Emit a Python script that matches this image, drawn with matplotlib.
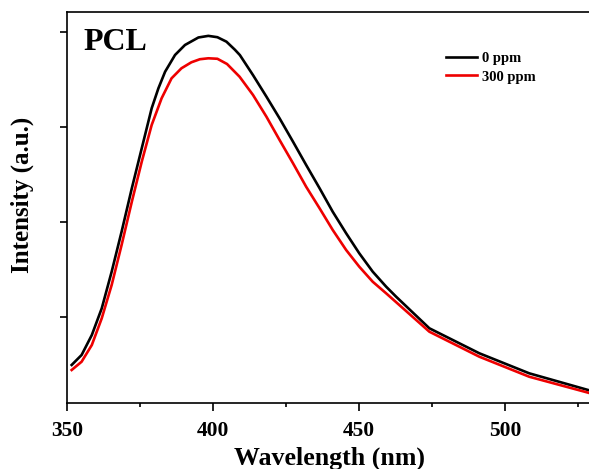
import matplotlib
matplotlib.use("Agg")
import matplotlib.pyplot as plt
from matplotlib.ticker import MultipleLocator

# Data (wavelength in nm, intensity in a.u.)
wl_0ppm = [351.6, 355.0, 358.5, 361.9, 365.3, 368.7, 372.2, 375.6, 379.0, 381.3,
           383.6, 387.0, 390.4, 395.0, 398.4, 401.5, 404.6, 407.5, 409.2, 413.7,
           418.3, 422.8, 427.4, 431.9, 436.5, 441.0, 445.6, 450.1, 454.7, 459.3,
           462.7, 474.1, 491.2, 508.3, 528.5]
int_0ppm = [49200, 59700, 80700, 108800, 147400, 189500, 235200, 277300, 319400, 340400,
            357900, 375500, 386000, 393900, 395600, 394200, 389500, 381000, 375400, 354300,
            331600, 308800, 284200, 259700, 235200, 210500, 187800, 166700, 147400, 131600,
            121100, 87800, 61500, 40400, 22800]

wl_300ppm = [351.6, 355.0, 358.5, 361.9, 365.3, 368.7, 372.2, 375.6, 379.0, 382.4,
             385.8, 389.2, 392.6, 395.5, 398.4, 401.5, 404.8, 409.1, 413.7, 418.3,
             422.8, 427.4, 431.9, 436.5, 441.0, 445.6, 450.1, 454.7, 459.3, 474.1,
             491.2, 508.3, 528.5]
int_300ppm = [43900, 52600, 70200, 98300, 133400, 175500, 221000, 263200, 301800, 329900,
              350900, 361500, 367800, 371000, 372000, 371500, 366000, 352600, 333400, 310500,
              286000, 261500, 236800, 214100, 191300, 170200, 152600, 136800, 124600, 84200,
              57900, 36800, 20000]

labels = ["0 ppm", "300 ppm"]
x_ticks = [350, 400, 450, 500]
y_ticks = [100000, 200000, 300000, 400000]

plt.rcParams['font.family'] = ['Liberation Serif', 'DejaVu Serif']
plt.rcParams['font.weight'] = 'bold'

W, H = 589, 469
fig = plt.figure(figsize=(W / 100, H / 100), dpi=100)
ax_w = 592.6 - 67
ax = fig.add_axes([67 / W, (H - 403) / H, ax_w / W, (403 - 12) / H])

ax.plot(wl_0ppm, int_0ppm, color='black', lw=1.9, label=labels[0])
ax.plot(wl_300ppm, int_300ppm, color='#ee0000', lw=1.9, label=labels[1])

ax.set_xlim(350, 530)
ax.set_ylim(9158, 420725)
ax.set_xticks(x_ticks)
ax.xaxis.set_minor_locator(MultipleLocator(25))
ax.set_yticks(y_ticks)
ax.set_yticklabels([])

for s in ['left', 'bottom', 'top']:
    ax.spines[s].set_linewidth(1.2)
ax.spines['right'].set_visible(False)

ax.tick_params(axis='x', which='major', direction='out', length=6, width=1.2,
               labelsize=15.5, pad=7)
ax.tick_params(axis='x', which='minor', direction='out', length=3, width=1.2)
ax.tick_params(axis='y', which='major', direction='out', length=5, width=1.2)
for lab in ax.get_xticklabels():
    lab.set_fontweight('bold')

ax.set_xlabel("Wavelength (nm)", fontsize=18.6, fontweight='bold', labelpad=4)
ax.set_ylabel("Intensity (a.u.)", fontsize=18, fontweight='bold')
ax.yaxis.set_label_coords(-(67 - 34) / ax_w, 0.532)

ax.text(83 / W, (H - 50) / H, "PCL", transform=fig.transFigure, fontsize=23,
        fontweight='bold', ha='left', va='baseline')

leg = ax.legend(loc='upper left', bbox_to_anchor=(446 / W, (H - 52) / H),
                bbox_transform=fig.transFigure, frameon=False,
                prop={'family': 'Liberation Serif', 'weight': 'bold', 'size': 10.5},
                handlelength=2.1, handletextpad=0.35, labelspacing=0.35,
                borderpad=0, borderaxespad=0)

fig.savefig("out.png", dpi=100)
